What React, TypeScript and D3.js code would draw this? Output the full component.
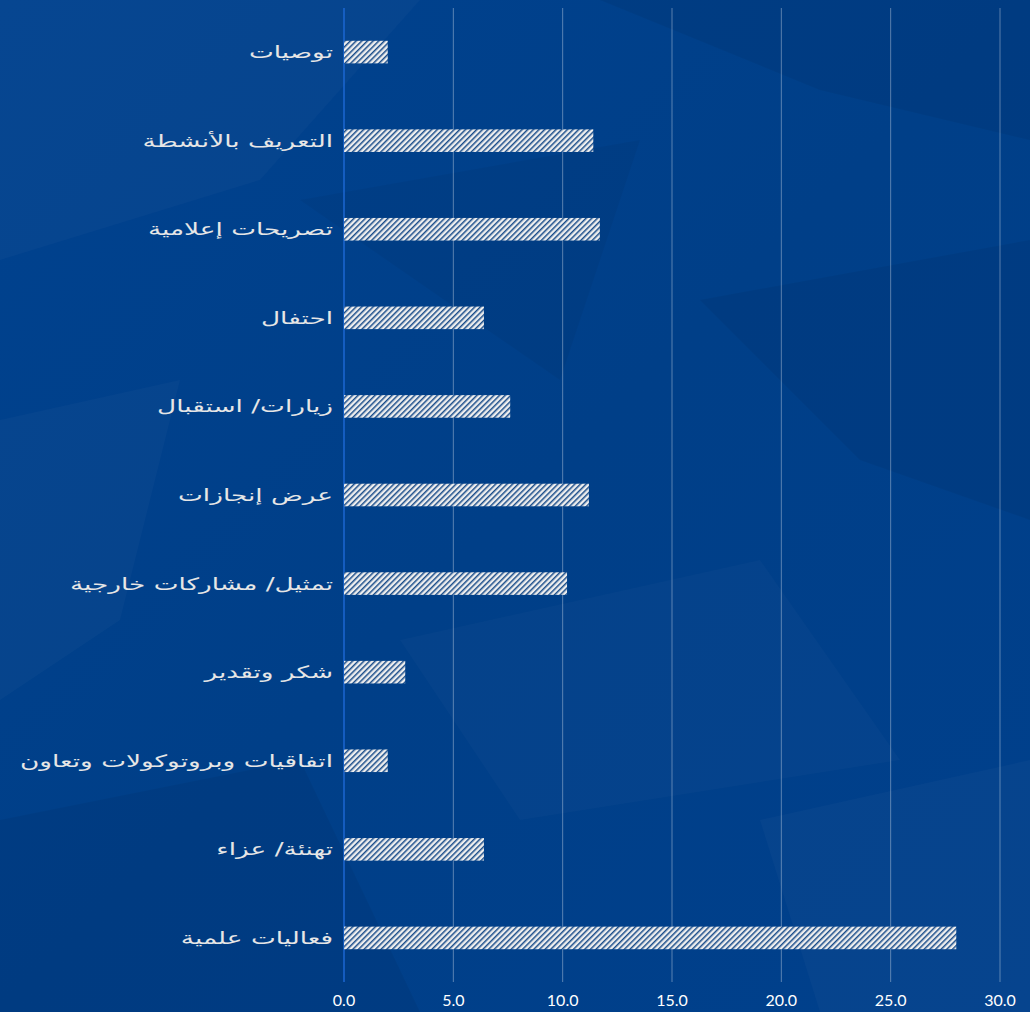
import React from "react";
import * as d3 from "d3";

const categories = [
  "توصيات",
  "التعريف بالأنشطة",
  "تصريحات إعلامية",
  "احتفال",
  "زيارات/ استقبال",
  "عرض إنجازات",
  "تمثيل/ مشاركات خارجية",
  "شكر وتقدير",
  "اتفاقيات وبروتوكولات وتعاون",
  "تهنئة/ عزاء",
  "فعاليات علمية",
];
const values = [2.0, 11.4, 11.7, 6.4, 7.6, 11.2, 10.2, 2.8, 2.0, 6.4, 28.0];
const xTicks = [0, 5, 10, 15, 20, 25, 30];

const W = 1030;
const H = 1012;
const margin = { left: 344, right: 30, top: 8, bottom: 30 };

// decorative texture patches (background only)
const texture: [string, number, string][] = [
  ["M0,0 L420,0 L260,180 L0,260 Z", 0.025, "#ffffff"],
  ["M600,0 L1030,0 L1030,140 L820,90 Z", 0.05, "#000000"],
  ["M0,420 L180,380 L120,620 L0,700 Z", 0.025, "#ffffff"],
  ["M700,300 L1030,240 L1030,520 L860,460 Z", 0.05, "#000000"],
  ["M400,640 L760,560 L900,760 L520,820 Z", 0.02, "#ffffff"],
  ["M0,820 L300,760 L420,1012 L0,1012 Z", 0.05, "#000000"],
  ["M760,820 L1030,760 L1030,1012 L820,1012 Z", 0.025, "#ffffff"],
  ["M300,200 L640,140 L560,380 Z", 0.04, "#000000"],
];

export default function App() {
  const x = d3
    .scaleLinear()
    .domain([0, 30])
    .range([margin.left, W - margin.right]);
  const y = d3
    .scaleBand()
    .domain(categories)
    .range([margin.top, 982])
    .paddingInner(0.745)
    .paddingOuter(0.37);

  return (
    <svg
      width={W}
      height={H}
      style={{ position: "absolute", left: 0, top: 0, display: "block" }}
    >
      <defs>
        <linearGradient id="bg" x1="0" y1="0" x2="1" y2="1">
          <stop offset="0" stopColor="#00428f" />
          <stop offset="0.5" stopColor="#003f88" />
          <stop offset="1" stopColor="#00408c" />
        </linearGradient>
        <pattern
          id="hatch"
          width="4"
          height="4"
          patternUnits="userSpaceOnUse"
          patternTransform="rotate(45)"
        >
          <rect width="4" height="4" fill="#eeeeee" />
          <rect x="0" y="0" width="1.5" height="4" fill="#1a4d8a" />
        </pattern>
      </defs>
      <rect width={W} height={H} fill="url(#bg)" />
      {texture.map(([d, o, c], i) => (
        <path key={i} d={d} fill={c} opacity={o} />
      ))}
      {xTicks.map((t) => (
        <g key={t}>
          <line
            x1={x(t)}
            x2={x(t)}
            y1={margin.top}
            y2={982}
            stroke={t === 0 ? "#1b67d2" : "rgba(255,255,255,0.35)"}
            strokeWidth={t === 0 ? 1.5 : 1}
          />
          <text
            x={x(t)}
            y={1006}
            textAnchor="middle"
            fill="#ffffff"
            fontFamily="Lato, 'Open Sans', sans-serif"
            fontSize={16}
          >
            {t.toFixed(1)}
          </text>
        </g>
      ))}
      {categories.map((c, i) => (
        <g key={c}>
          <rect
            x={x(0)}
            y={y(c)!}
            width={x(values[i]) - x(0)}
            height={y.bandwidth()}
            fill="url(#hatch)"
          />
          <g
            transform={`translate(333, ${y(c)! + y.bandwidth() / 2}) scale(1.55, 1)`}
          >
            <text
              x={0}
              y={0}
              dy="0.35em"
              textAnchor="start"
              direction="rtl"
              fill="#e6e6e6"
              fontFamily="'DejaVu Sans', sans-serif"
              fontSize={17}
            >
              {c}
            </text>
          </g>
        </g>
      ))}
    </svg>
  );
}
